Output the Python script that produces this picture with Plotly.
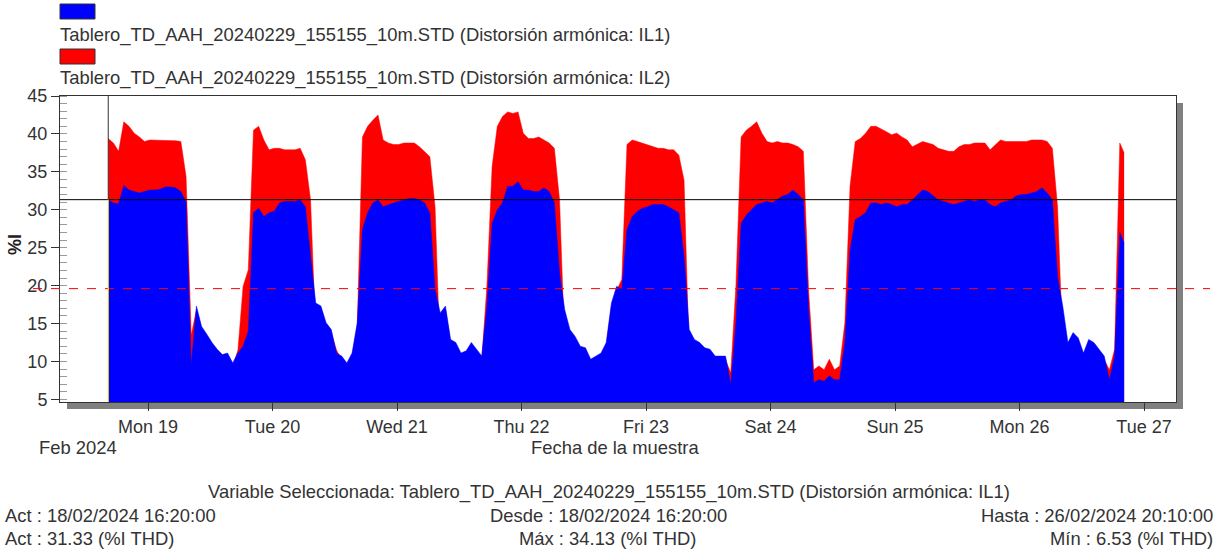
import plotly.graph_objects as go
import pandas as pd

# hourly readings of the 10-minute THD record (%I), from 18/02/2024 16:20 to 26/02/2024 20:10
il1 = [31.3, 30.9, 30.8, 33.2, 32.6, 32.4, 32.2, 32.4, 32.6, 32.6, 32.7, 33.0, 33.0, 32.9, 32.4, 31.0,
       9.5, 17.3, 14.6, 13.6, 12.5, 11.6, 10.9, 11.1, 9.8, 11.1, 12.0, 14.0,
       29.6, 30.2, 29.1, 29.6, 29.8, 30.9, 31.1, 31.1, 31.1, 31.3, 30.4, 23.9,
       17.7, 17.3, 15.1, 14.2, 11.1, 10.7, 9.8, 11.1, 15.1,
       27.4, 29.6, 30.9, 31.3, 30.4, 30.7, 30.9, 31.1, 31.3, 31.5, 31.5, 31.3, 30.9, 29.6, 19.5,
       16.4, 17.3, 12.9, 12.5, 11.1, 11.4, 12.5, 11.6, 10.7, 17.3,
       28.2, 30.0, 30.9, 33.1, 33.1, 33.7, 32.6, 32.6, 32.4, 32.4, 32.9, 32.4, 30.9, 21.7,
       16.8, 14.2, 13.3, 12.0, 11.8, 10.3, 10.7, 11.1, 12.5, 17.7, 19.9, 19.5,
       27.4, 29.1, 29.8, 30.2, 30.4, 30.7, 30.7, 30.7, 30.4, 30.0, 29.6, 23.9,
       14.2, 12.9, 12.5, 11.8, 11.6, 10.7, 10.7, 10.7, 7.0, 15.1,
       28.2, 29.3, 30.0, 30.7, 30.9, 31.1, 30.9, 31.3, 31.8, 32.0, 32.6, 32.0, 31.3, 17.0,
       7.2, 7.6, 7.4, 8.1, 7.6, 7.6, 12.5,
       24.7, 28.7, 29.1, 29.6, 30.9, 30.9, 30.7, 30.9, 30.7, 30.4, 30.7, 30.7, 31.3, 32.0, 32.6,
       32.4, 31.8, 31.3, 31.1, 30.9, 30.7, 30.9, 31.1, 31.3, 31.1, 31.3, 31.3, 30.7, 30.4, 30.9,
       31.1, 31.3, 31.8, 32.0, 32.0, 32.2, 32.4, 32.9, 32.2, 31.3, 21.2,
       17.3, 12.5, 13.8, 13.1, 11.1, 12.9, 12.5, 11.6, 10.7, 7.6, 10.7,
       27.0, 25.6]

il2 = [39.4, 38.8, 37.7, 41.6, 41.0, 40.1, 39.6, 39.0, 39.2, 39.2, 39.2, 39.2, 39.2, 39.1, 39.0, 34.4,
       13.5, 16.8, 14.1, 13.1, 12.0, 11.1, 10.4, 10.6, 9.3, 11.5, 19.9, 22.1,
       40.5, 41.0, 39.2, 37.9, 38.1, 38.1, 37.9, 37.9, 37.9, 38.1, 36.6, 31.3,
       13.3, 16.8, 14.6, 13.7, 11.5, 10.2, 9.3, 10.6, 14.6,
       39.6, 41.0, 41.8, 42.5, 39.2, 38.8, 38.6, 38.6, 38.8, 38.8, 38.8, 38.3, 37.7, 37.0, 30.4,
       10.0, 16.8, 12.4, 12.0, 10.6, 10.9, 12.0, 11.1, 10.2, 20.0,
       35.7, 41.0, 42.3, 42.9, 42.7, 42.9, 40.1, 39.4, 39.4, 39.6, 39.2, 38.8, 38.1, 31.3,
       11.8, 13.7, 12.8, 11.5, 11.3, 9.8, 10.2, 10.6, 12.0, 17.2, 19.4, 20.8,
       38.6, 39.2, 39.0, 38.8, 38.6, 38.3, 38.1, 38.1, 37.9, 37.9, 37.2, 33.9,
       10.5, 12.4, 12.0, 11.3, 11.1, 10.2, 10.2, 10.2, 8.5, 20.0,
       39.6, 40.5, 41.0, 41.6, 40.1, 39.0, 38.8, 39.0, 38.8, 38.8, 38.6, 38.3, 37.7, 19.5,
       8.9, 9.4, 8.9, 10.3, 8.9, 9.4, 15.1,
       33.1, 39.0, 39.4, 40.1, 41.0, 41.0, 40.7, 40.3, 39.9, 40.1, 39.6, 39.2, 38.3, 38.6, 39.0,
       38.8, 38.6, 38.1, 37.9, 37.7, 37.7, 38.3, 38.6, 38.6, 38.8, 38.8, 38.8, 37.9, 38.6, 39.2,
       39.0, 39.0, 39.0, 39.0, 39.0, 39.2, 39.2, 39.2, 39.0, 38.1, 30.4,
       12.0, 12.0, 13.3, 12.6, 10.6, 12.4, 12.0, 11.1, 10.2, 8.9, 11.6,
       38.8, 37.5]

times = list(pd.date_range("2024-02-18 16:20", periods=len(il1) - 1, freq="h")) + [pd.Timestamp("2024-02-26 20:10")]

act_value = 31.33
limit_value = 19.6
serie_il1 = "Tablero_TD_AAH_20240229_155155_10m.STD (Distorsión armónica: IL1)"
serie_il2 = "Tablero_TD_AAH_20240229_155155_10m.STD (Distorsión armónica: IL2)"

# plot area in pixels
L, R, T, B = 60, 1176, 96, 402
W, H = R - L, B - T


def px(x):
    return (x - L) / W


def py(y):
    return (B - y) / H


fig = go.Figure()
fig.add_trace(go.Scatter(x=times, y=il2, mode="lines", fill="tozeroy",
                         line=dict(width=0.5, color="#FF0000"), fillcolor="#FF0000", name=serie_il2))
fig.add_trace(go.Scatter(x=times, y=il1, mode="lines", fill="tozeroy",
                         line=dict(width=0.5, color="#0000FF"), fillcolor="#0000FF", name=serie_il1))

shapes = [
    # drop shadow of the frame
    dict(type="rect", xref="paper", yref="paper", x0=px(R), x1=px(R + 7), y0=py(B + 7), y1=py(T + 7),
         fillcolor="#808080", line=dict(width=0), layer="below"),
    dict(type="rect", xref="paper", yref="paper", x0=px(L + 7), x1=px(R + 7), y0=py(B + 7), y1=0,
         fillcolor="#808080", line=dict(width=0), layer="below"),
    # cursor lines
    dict(type="line", xref="paper", yref="y", x0=0, x1=1, y0=act_value, y1=act_value,
         line=dict(color="#000000", width=1)),
    dict(type="line", xref="paper", yref="y", x0=px(33), x1=px(1210), y0=limit_value, y1=limit_value,
         line=dict(color="#FF0000", width=1, dash="dash")),
    dict(type="line", xref="x", yref="y", x0=times[0], x1=times[0], y0=act_value, y1=45,
         line=dict(color="#333333", width=1)),
    dict(type="line", xref="x", yref="y", x0=times[0], x1=times[0], y0=4.65, y1=act_value,
         line=dict(color="#FFFF00", width=1)),
    # legend swatches
    dict(type="rect", xref="paper", yref="paper", x0=px(60), x1=px(95), y0=py(19), y1=py(4),
         fillcolor="#0000FF", line=dict(color="#333333", width=1)),
    dict(type="rect", xref="paper", yref="paper", x0=px(60), x1=px(95), y0=py(64), y1=py(49),
         fillcolor="#FF0000", line=dict(color="#333333", width=1)),
]

txt = dict(color="#333333", size=18.4)
annotations = [
    dict(text=serie_il1, x=px(58), y=py(35), xanchor="left", yanchor="middle", font=txt),
    dict(text=serie_il2, x=px(58), y=py(78), xanchor="left", yanchor="middle", font=txt),
    dict(text="<b>%I</b>", x=px(15), y=py(245), textangle=-90, xanchor="center", yanchor="middle",
         font=dict(color="#222222", size=18)),
    dict(text="Feb 2024", x=px(37), y=py(447), xanchor="left", yanchor="middle", font=txt),
    dict(text="Fecha de la muestra", x=px(615), y=py(447), xanchor="center", yanchor="middle", font=txt),
    dict(text="Variable Seleccionada: " + serie_il1, x=px(609), y=py(492), xanchor="center", yanchor="middle", font=txt),
    dict(text="Act : 18/02/2024 16:20:00", x=px(3), y=py(515), xanchor="left", yanchor="middle", font=txt),
    dict(text="Desde : 18/02/2024 16:20:00", x=px(608), y=py(515), xanchor="center", yanchor="middle", font=txt),
    dict(text="Hasta : 26/02/2024 20:10:00", x=px(1215), y=py(515), xanchor="right", yanchor="middle", font=txt),
    dict(text="Act : 31.33 (%I THD)", x=px(3), y=py(538), xanchor="left", yanchor="middle", font=txt),
    dict(text="Máx : 34.13 (%I THD)", x=px(608), y=py(538), xanchor="center", yanchor="middle", font=txt),
    dict(text="Mín : 6.53 (%I THD)", x=px(1215), y=py(538), xanchor="right", yanchor="middle", font=txt),
]
for a in annotations:
    a.update(xref="paper", yref="paper", showarrow=False)

fig.update_layout(
    width=1217, height=550,
    margin=dict(l=L, r=1217 - R, t=T, b=550 - B, pad=0),
    plot_bgcolor="white", paper_bgcolor="white",
    font=dict(family="Liberation Sans, Arial, sans-serif", size=18, color="#333333"),
    showlegend=False,
    shapes=shapes, annotations=annotations,
)
fig.update_xaxes(type="date", range=["2024-02-18 07:02", "2024-02-27 06:10"],
                 tick0="2024-02-19", dtick=86400000, tickformat="%a %d",
                 ticks="outside", ticklen=8, tickcolor="#333333",
                 showline=True, linecolor="#333333", linewidth=1, mirror=True,
                 showgrid=False, zeroline=False)
fig.update_yaxes(range=[4.65, 45], tickvals=[5, 10, 15, 20, 25, 30, 35, 40, 45],
                 ticks="outside", ticklen=8, tickcolor="#333333",
                 minor=dict(ticks="inside", ticklen=7, tickcolor="#9a9a9a", dtick=1, showgrid=False),
                 showline=True, linecolor="#333333", linewidth=1, mirror=True,
                 showgrid=False, zeroline=False)

# the page body keeps its default 8px margin otherwise
fig.write_html("out.html", config={"displayModeBar": False},
               post_script="document.body.style.margin='0';")
